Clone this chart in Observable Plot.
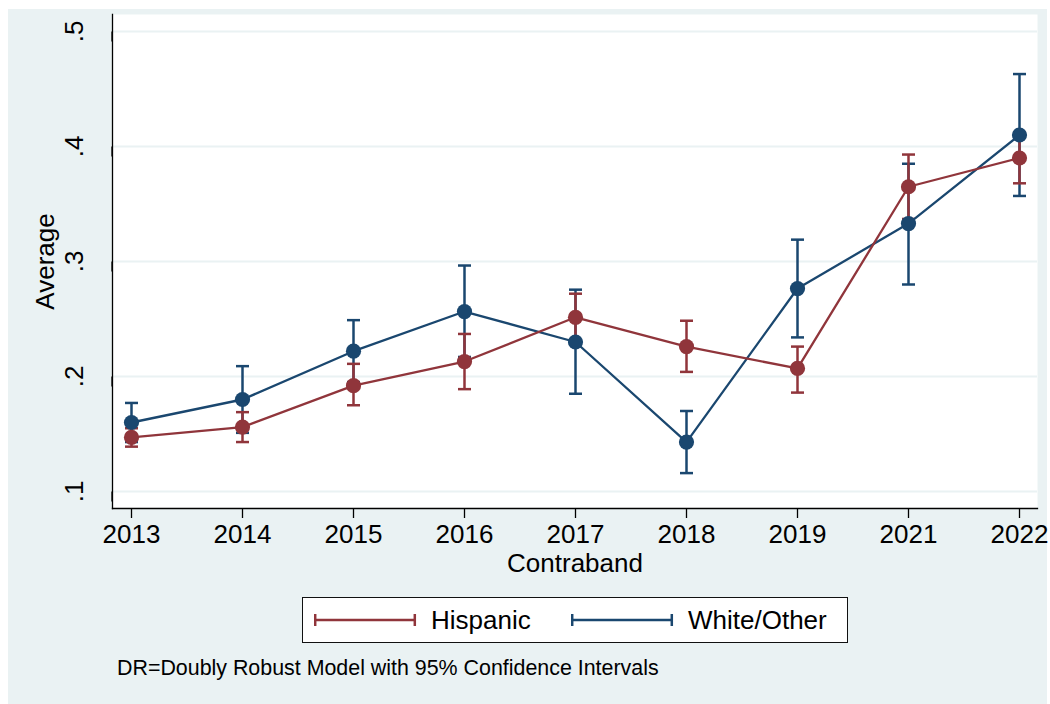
<!DOCTYPE html>
<html>
<head>
<meta charset="utf-8">
<script src="https://cdn.jsdelivr.net/npm/d3@7"></script>
<script src="https://cdn.jsdelivr.net/npm/@observablehq/plot@0.6"></script>
<style>
html, body { margin: 0; padding: 0; background: #ffffff; }
#wrap { position: relative; width: 1050px; height: 704px; overflow: hidden; font-family: "Liberation Sans", Arial, sans-serif; }
#bg { position: absolute; left: 8px; top: 9px; width: 1039px; height: 695px; background: #eaf2f3; }
#chart { position: absolute; left: 0; top: 0; }
#legend { position: absolute; left: 302px; top: 597px; width: 544px; height: 44px; border: 1px solid #111; background: #ffffff; }
.litem { position: absolute; top: 0; height: 44px; }
.ltext { position: absolute; top: 7px; font-size: 26px; line-height: 30px; color: #000; white-space: nowrap; }
#caption { position: absolute; left: 117px; top: 655px; font-size: 21.4px; line-height: 26px; color: #000; white-space: nowrap; }
</style>
</head>
<body>
<div id="wrap">
  <div id="bg"></div>
  <div id="chart"></div>
  <div id="legend"></div>
  <div id="caption"></div>
</div>
<script>
// ---- data ----
const years = ["2013", "2014", "2015", "2016", "2017", "2018", "2019", "2021", "2022"];
const hispanic   = [0.147, 0.156, 0.192, 0.213, 0.2515, 0.226, 0.207, 0.365, 0.390];
const hispanicLo = [0.139, 0.143, 0.175, 0.189, 0.231, 0.204, 0.186, 0.337, 0.368];
const hispanicHi = [0.155, 0.169, 0.211, 0.237, 0.272, 0.2485, 0.226, 0.393, 0.412];
const white   = [0.160, 0.180, 0.222, 0.2565, 0.230, 0.143, 0.2765, 0.333, 0.410];
const whiteLo = [0.143, 0.151, 0.195, 0.217, 0.185, 0.116, 0.234, 0.280, 0.357];
const whiteHi = [0.177, 0.209, 0.249, 0.2965, 0.2755, 0.170, 0.319, 0.385, 0.463];
const seriesNames = ["Hispanic", "White/Other"];
const seriesColors = ["#90353b", "#1a476f"];
const yTicks = [0.1, 0.2, 0.3, 0.4, 0.5];
const yTickLabels = [".1", ".2", ".3", ".4", ".5"];
const xTitle = "Contraband";
const yTitle = "Average";
const captionText = "DR=Doubly Robust Model with 95% Confidence Intervals";

// ---- tables ----
const hisp = years.map((y, i) => ({year: y, v: hispanic[i], lo: hispanicLo[i], hi: hispanicHi[i]}));
const wht = years.map((y, i) => ({year: y, v: white[i], lo: whiteLo[i], hi: whiteHi[i]}));
const [cH, cW] = seriesColors;

// horizontal cap symbol for error bars
const capSymbol = {draw(ctx) { ctx.moveTo(-6.5, 0); ctx.lineTo(6.5, 0); }};

function errMarks(data, color) {
  return [
    Plot.ruleX(data, {x: "year", y1: "lo", y2: "hi", stroke: color, strokeWidth: 2.5}),
    Plot.dot(data, {x: "year", y: "lo", symbol: capSymbol, stroke: color, strokeWidth: 2.5, fill: "none"}),
    Plot.dot(data, {x: "year", y: "hi", symbol: capSymbol, stroke: color, strokeWidth: 2.5, fill: "none"})
  ];
}
function lineMarks(data, color) {
  return [
    Plot.line(data, {x: "year", y: "v", stroke: color, strokeWidth: 2.3}),
    Plot.dot(data, {x: "year", y: "v", r: 7.6, fill: color, stroke: "none"})
  ];
}

const chart = Plot.plot({
  width: 1050,
  height: 580,
  marginLeft: 112,
  marginRight: 13,
  marginTop: 14,
  marginBottom: 72,
  style: {background: "transparent", fontFamily: "'Liberation Sans', Arial, sans-serif", color: "#000", overflow: "visible"},
  x: {type: "point", domain: years, padding: 0, insetLeft: 17, insetRight: 17},
  y: {domain: [0.1, 0.5], insetTop: 17, insetBottom: 17},
  marks: [
    Plot.frame({fill: "#ffffff", stroke: "none"}),
    Plot.ruleY(yTicks, {stroke: "#eaf2f3", strokeWidth: 2}),
    Plot.frame({anchor: "left", stroke: "#000", strokeWidth: 1.3}),
    Plot.frame({anchor: "bottom", stroke: "#000", strokeWidth: 1.3}),
    Plot.axisY({ticks: yTicks, tickFormat: (d) => yTickLabels[yTicks.indexOf(d)], tickSize: 10, tickPadding: 20,
      rotate: -90, textAnchor: "middle", lineAnchor: "bottom", fontSize: 26, label: null, stroke: "#000", strokeWidth: 1.3, strokeOpacity: 1}),
    Plot.axisX({tickSize: 10, tickPadding: 6, fontSize: 26, label: null, stroke: "#000", strokeWidth: 1.3, strokeOpacity: 1}),
    Plot.text([xTitle], {frameAnchor: "bottom", text: (d) => d, textAnchor: "middle", lineAnchor: "bottom", dy: 63, fontSize: 26, fill: "#000"}),
    Plot.text([yTitle], {frameAnchor: "left", text: (d) => d, rotate: -90, textAnchor: "middle", lineAnchor: "top", dx: -77, fontSize: 26, fill: "#000"}),
    ...errMarks(wht, cW),
    ...errMarks(hisp, cH),
    ...lineMarks(wht, cW),
    ...lineMarks(hisp, cH)
  ]
});
document.getElementById("chart").appendChild(chart);

// ---- legend ----
const legend = document.getElementById("legend");
const itemLeft = [11, 268];
seriesNames.forEach((name, i) => {
  const item = document.createElement("div");
  item.className = "litem";
  item.style.left = itemLeft[i] + "px";
  item.innerHTML =
    `<svg width="104" height="44" style="position:absolute;left:0;top:0">
       <line x1="1" x2="101" y1="22" y2="22" stroke="${seriesColors[i]}" stroke-width="2.5"/>
       <line x1="1.2" x2="1.2" y1="16" y2="28" stroke="${seriesColors[i]}" stroke-width="2.5"/>
       <line x1="100.8" x2="100.8" y1="16" y2="28" stroke="${seriesColors[i]}" stroke-width="2.5"/>
     </svg>
     <span class="ltext" style="left:117px">${name}</span>`;
  legend.appendChild(item);
});
document.getElementById("caption").textContent = captionText;
</script>
</body>
</html>
